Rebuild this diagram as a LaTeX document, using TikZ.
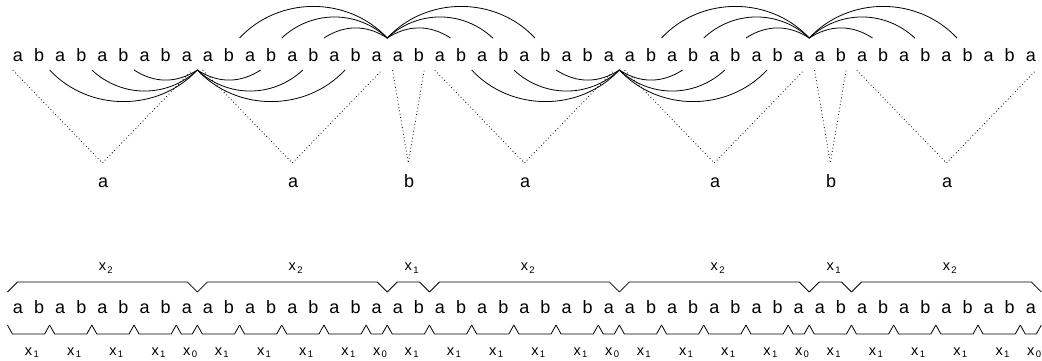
\documentclass[tikz,border=0pt]{standalone}
\usepackage{fontspec}
\setmainfont{Liberation Sans}
\usetikzlibrary{calc}

% label "x" with a lowered index that does not take part in centring
\newcommand\xlab[1]{x\rlap{\kern1.4pt\raisebox{-2.6pt}{\fontsize{9.5}{10}\selectfont #1}}}

\begin{document}
\begin{tikzpicture}[x=1pt,y=1pt,
  letter/.style={inner sep=0pt, anchor=base, font=\fontsize{18}{20}\selectfont, text depth=9pt},
  lab/.style={inner sep=0pt, anchor=base, font=\fontsize{18}{20}\selectfont},
  xlabel/.style={inner sep=0pt, anchor=base, font=\fontsize{14.5}{16}\selectfont},
  arcline/.style={line width=0.8pt},
  dots/.style={line width=0.8pt, dash pattern=on 0.8pt off 2.6pt},
  brace/.style={line width=0.8pt, line join=miter}]
\useasboundingbox (0,0) rectangle (1042,-360);

% gaps between letters: k = gap after letter k
\foreach \k in {0,...,49} {
  \pgfmathsetmacro\bx{7.45+21.1*\k}
  \coordinate (tu\k) at (\bx,-38);
  \coordinate (td\k) at (\bx,-70);
  \coordinate (ub\k) at (\bx,-292);
  \coordinate (lb\k) at (\bx,-325);
}

% the word, written twice
\foreach \c [count=\i] in {a,b,a,b,a,b,a,b,a, a,b,a,b,a,b,a,b,a, a,b,
    a,b,a,b,a,b,a,b,a, a,b,a,b,a,b,a,b,a, a,b, a,b,a,b,a,b,a,b,a} {
  \pgfmathsetmacro\lx{18+21.1*(\i-1)}
  \node[letter] (t\i) at (\lx,-61) {\c};
  \node[letter] (s\i) at (\lx,-313) {\c};
}

% arcs above the upper word
\foreach \m in {18,38} {
  \foreach \r/\ang in {3/33,5/43,7/47} {
    \pgfmathtruncatemacro\lo{\m-\r}
    \pgfmathtruncatemacro\hi{\m+\r}
    \draw[arcline] (tu\lo) to[bend left=\ang] (tu\m) to[bend left=\ang] (tu\hi);
  }
}
% arcs below the upper word
\foreach \m in {9,29} {
  \foreach \r/\ang in {3/33,5/43,7/47} {
    \pgfmathtruncatemacro\lo{\m-\r}
    \pgfmathtruncatemacro\hi{\m+\r}
    \draw[arcline] (td\lo) to[bend right=\ang] (td\m) to[bend right=\ang] (td\hi);
  }
}

% dotted triangles onto the preimage letters
\foreach \f/\l/\c [count=\j] in {1/9/a, 10/18/a, 19/20/b, 21/29/a, 30/38/a, 39/40/b, 41/49/a} {
  \pgfmathsetmacro\ax{7.45+21.1*(\f-1+\l)/2}
  \coordinate (p\j) at (\ax,-163);
  \node[lab] (q\j) at (\ax+0.8,-187) {\c};
  \draw[dots] (t\f.south west) -- (p\j) -- (t\l.south east);
}

% upper braces over the lower word
\foreach \a/\b/\n [count=\j] in {0/9/2, 9/18/2, 18/20/1, 20/29/2, 29/38/2, 38/40/1, 40/49/2} {
  \draw[brace] (ub\a) -- ++(10,10) -- ($(ub\b)+(-10,10)$) -- (ub\b);
  \pgfmathsetmacro\cx{7.45+21.1*(\a+\b)/2}
  \node[xlabel] (tx\j) at (\cx,-270.7) {\xlab{\n}};
}

% lower braces under the lower word
\foreach \a/\b/\n [count=\j] in {0/2/1, 2/4/1, 4/6/1, 6/8/1, 8/9/0, 9/11/1, 11/13/1,
    13/15/1, 15/17/1, 17/18/0, 18/20/1, 20/22/1, 22/24/1, 24/26/1, 26/28/1, 28/29/0,
    29/31/1, 31/33/1, 33/35/1, 35/37/1, 37/38/0, 38/40/1, 40/42/1, 42/44/1, 44/46/1,
    46/48/1, 48/49/0} {
  \draw[brace] (lb\a) -- ++(5,-9) -- ($(lb\b)+(-5,-9)$) -- (lb\b);
  \pgfmathsetmacro\cx{7.45+21.1*(\a+\b)/2}
  \node[xlabel] (bx\j) at (\cx,-355) {\xlab{\n}};
}
\end{tikzpicture}
\end{document}
